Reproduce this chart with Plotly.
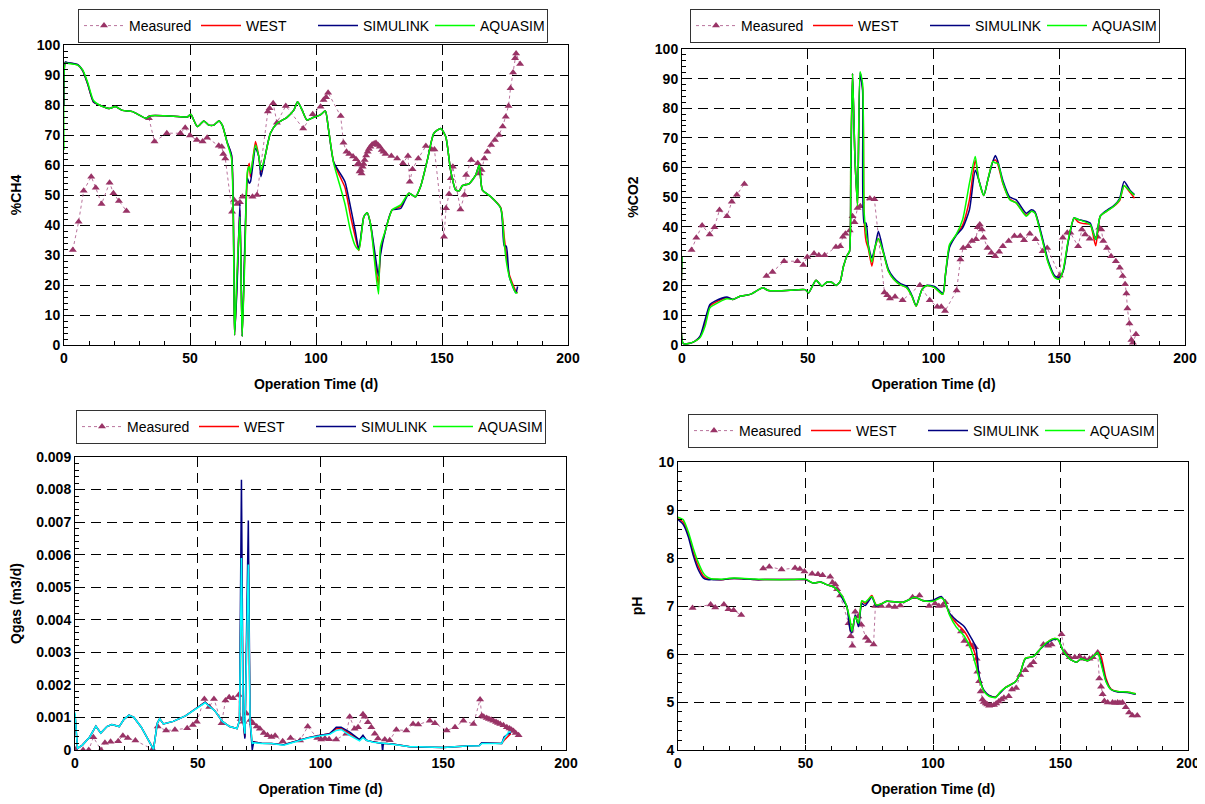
import plotly.graph_objects as go

# ---------------- Panel 1 : %CH4 ----------------
t_ch4_sim = [0, 0.5, 1.2, 5.4, 7.4, 9.4, 11.7, 14, 18, 20.3,
             23.2, 27.2, 32.5, 34.4, 40, 45, 49, 50.3, 52.9, 55.5,
             57.5, 59.5, 61.5, 62.8, 64.8, 66.5, 67.7, 68.7, 69.8, 70.7,
             71.8, 72.8, 73.5, 74, 76, 77.3, 78.2, 79.9, 81.9, 84.6,
             88.5, 91.2, 92.7, 94.5, 96.4, 99.1, 101.7, 103.7, 105, 107,
             109.6, 111.5, 113.7, 115.6, 117, 119, 120.3, 121.6, 123.6, 124.8,
             125.6, 127.6, 130.2, 133.6, 136.9, 139.5, 141.5, 144.2, 146.8, 149.5,
             151.5, 153.4, 155.4, 156.8, 158.1, 160.7, 163.4, 164.8, 166, 169.4,
             173.3, 174.7, 175.5, 176.7, 179.3, 180]
ch4_west = [80, 94.2, 94.1, 93.4, 91.5, 87, 81, 80, 78.8, 79.5,
            78.2, 77.8, 75.6, 76.4, 76.4, 76.2, 76, 76.9, 72.8, 74.7,
            73.3, 73.3, 74.7, 73.3, 67.3, 63, 3.3, 22, 45, 2.8,
            33, 57, 60.6, 56, 67.8, 62.8, 57.5, 63.3, 70.6, 73.9,
            75.9, 78.3, 81.1, 78.3, 75, 75.9, 76.7, 78, 71.7, 61,
            56, 52.5, 43, 36, 31.5, 42.8, 44.1, 40.5, 27, 20,
            31, 38.3, 45, 46.2, 50.6, 49.4, 52.8, 61.7, 70.6, 72.2,
            69.4, 58.3, 51.7, 51.4, 53.1, 53.7, 56.7, 60, 51.7, 49.4,
            45.8, 36, 30, 23.5, 18, 17.4]
ch4_simulink = [80, 94.3, 94.2, 93.5, 91.5, 87, 81, 80, 78.8, 79.5,
                78.2, 77.8, 75.6, 76.4, 76.4, 76.2, 76, 76.9, 72.8, 74.7,
                73.3, 73.3, 74.7, 73.3, 67.5, 63.3, 3.3, 20, 47.2, 2.8,
                35, 55.6, 53.9, 54.4, 65.6, 62.8, 56.1, 63.3, 70.6, 73.9,
                75.9, 78.3, 81.1, 78.3, 75, 75.9, 76.7, 78, 71.7, 61,
                57.2, 54.4, 46, 38, 32, 42.8, 44.1, 40.5, 29.4, 23,
                30, 38.3, 45, 45.5, 50.6, 49.4, 52.8, 61.7, 70.6, 72.2,
                69.4, 58.3, 51.7, 51.4, 53.1, 53.7, 56.7, 60, 51.7, 49.4,
                45.6, 33, 33, 22.8, 17.4, 19.5]
ch4_aquasim = [65, 94, 93.9, 93.3, 91.7, 87.5, 81.5, 80, 78.8, 79.5,
               78.2, 77.8, 75.6, 76.4, 76.4, 76.2, 76, 76.9, 72.8, 74.7,
               73.3, 73.3, 74.7, 73.3, 67.2, 62, 3.3, 25, 42.8, 2.8,
               30, 58, 59.4, 57.2, 66.7, 62.8, 58.3, 63.3, 70.6, 73.9,
               75.9, 78.3, 81.1, 78.3, 75, 75.9, 76.7, 78, 71.7, 60.6,
               52.8, 47, 38, 33, 31.7, 42.8, 44.1, 40.5, 25, 17,
               32.8, 38.3, 45, 46.7, 50.6, 49.4, 52.8, 61.7, 70.6, 72.2,
               69.4, 58.3, 51.7, 51.4, 53.1, 53.7, 56.7, 60, 51.7, 49.4,
               45.6, 33.9, 28, 22.8, 17.4, 17.4]
t_ch4_meas = [3.5, 5.8, 7.8, 10.8, 12.6, 14.9, 18.1, 19.6, 21.8, 24.8,
              None,
              33.7, 35.9, 40.8, 46.2, 48.1, 50, 52.7, 55, 56.8,
              61.4, 62.6, 63.2, 64, 66.7, 67.5, 68.7, 69.8, 70.8, 74.8,
              76.6, 80.9, 81.6, 83, 84.5, 88, 94.9, 98.7, 101.8, 103,
              104, 104.8, 109.8, 110.9, 112.1, 113.2, 114.7, 115.9, 116.4, 117,
              117.3, 117.7, 118.1, 118.5, 118.9, 119.3, 119.9, 120.5, 121, 121.6,
              122.3, 123.1, 123.8, 124.6, 125.3, 126.1, 126.8, 127.6, 129.9, 132.2,
              134.5, 136.5, 137.2, 138.3, 140.6, 143.6, 145.9, 147, 150.8, 151.6,
              152.8, 153.5, 154.3, 157.3, 158.9, 159.6, 161.6, 164.2, 165, 165.7,
              166.8, 168, 169.5, 171, 172.6, 174.1, 175.3, 176.4, 177.2, 178.2,
              179, 179.4, 181]
ch4_meas = [31.7, 41.1, 51.4, 56.1, 52.4, 47, 54.1, 50.6, 48, 44.7,
            None,
            75.6, 67.8, 70.6, 70.6, 72.4, 69.8, 68.3, 67.8, 69.1,
            66.4, 66.1, 63.7, 62.2, 44.4, 48.3, 47, 47.6, 49.4, 49.4,
            50, 77.8, 78.9, 80.6, 74.1, 79.7, 72.2, 76.9, 79.4, 81.7,
            82.6, 84.1, 76.3, 67.4, 64.4, 63.7, 62.8, 61.9, 60.2, 60.6,
            57.8, 58.3, 57.2, 59.4, 60.3, 61.7, 63.2, 64.4, 65.3, 66.1,
            66.8, 67.2, 67.3, 66.7, 66.1, 65, 64.4, 63.7, 63, 62.2,
            60.6, 63, 54.4, 58.6, 62.2, 66.3, 65.2, 65.2, 36.1, 45.6,
            50.3, 55.6, 59.4, 45.2, 50, 56.7, 61.7, 60.6, 57.2, 58.3,
            62.2, 64.4, 66.7, 68.3, 70, 72.8, 76.1, 79.7, 85.6, 90.8,
            95.6, 97.2, 93.7]

# ---------------- Panel 2 : %CO2 ----------------
t_co2_sim = [0, 0.5, 3.2, 5.2, 7.2, 9.2, 11.1, 13.1, 17.8, 20.2,
             23.1, 27.1, 32.1, 34.4, 43, 49, 50.3, 53.3, 55.6, 57.6,
             59.5, 61.3, 62.9, 64.2, 65.8, 66.6, 67.1, 67.8, 68.8, 69.8,
             70.8, 71.8, 72.4, 73.2, 74.1, 75.5, 76.8, 78.1, 80.1, 82.1,
             84.1, 86.7, 89.4, 91.4, 93.1, 95.4, 97.3, 100.4, 103.7, 104.8,
             106.4, 109, 111.6, 114.3, 116.6, 118, 120, 121.6, 123.6, 124.6,
             125.6, 127.6, 130.3, 132.9, 136.9, 138.9, 140.3, 142.9, 145.6, 148.3,
             150, 151.6, 153.6, 155.9, 157.6, 159.6, 162.3, 164.5, 166.3, 168.9,
             171.6, 174, 175.8, 178.2, 179.9]
co2_west = [30, 0.5, 0.6, 1.3, 2.8, 7.5, 13.2, 14.3, 16, 15.4,
            16.5, 17.1, 19.3, 18.4, 18.5, 18.7, 17.6, 21.9, 19.9, 21.2,
            21.2, 20.1, 21.5, 26.6, 30.5, 31.6, 60, 91.7, 62.5, 47,
            91, 87, 43, 35, 32.5, 26.6, 33, 36, 31.1, 24.9,
            22.3, 20.4, 19.3, 16.5, 13.1, 18.7, 20.1, 19.4, 17.1, 24,
            33.5, 37.2, 40.5, 49, 62.5, 55.8, 50.5, 55.8, 62, 62.5,
            61, 54.5, 49.3, 48, 43.8, 45.2, 44.8, 37, 28, 22.9,
            22.4, 25.2, 35.3, 42.9, 41.5, 41, 40.7, 33.5, 43.5, 45.2,
            46.8, 48.8, 53.8, 51.5, 49.6]
co2_simulink = [30, 0.5, 0.6, 1.3, 3, 8.6, 13.7, 14.8, 16.2, 15.4,
                16.5, 17.1, 19.3, 18.4, 18.5, 18.7, 17.6, 21.9, 19.9, 21.2,
                21.2, 20.1, 21.5, 26.6, 30.5, 31.6, 55, 91.7, 62.5, 47.9,
                92, 86, 41.2, 41.2, 33.8, 29.4, 33.3, 38.4, 31.5, 25.5,
                22.8, 20.8, 19.8, 16.8, 13.3, 18.7, 20.1, 19.8, 17.5, 24,
                33, 37, 39.6, 45.7, 59, 55.8, 50.5, 55.8, 62, 64,
                62, 55.5, 50, 49, 44.5, 45.7, 45, 37.5, 28.5, 23.3,
                22.8, 25, 35, 42.9, 42.4, 42, 41.2, 35.6, 43.5, 45.5,
                47, 49.5, 55.2, 52.2, 50.8]
co2_aquasim = [30, 0.5, 0.6, 1.3, 2.5, 6.4, 12.6, 13.7, 15.6, 15.4,
               16.5, 17.1, 19.3, 18.4, 18.5, 18.7, 17.6, 21.9, 19.9, 21.2,
               21.2, 20.1, 21.5, 26.6, 30.5, 31.6, 62.5, 91.7, 62.5, 47,
               92.3, 88.3, 45, 37.8, 33.3, 28, 33.3, 36, 31.1, 24.9,
               22.3, 20.4, 19.3, 16.5, 13.1, 18.7, 20.1, 19.4, 17.1, 24.4,
               34, 37.3, 42.4, 54.7, 63.7, 55.8, 50.5, 55.8, 62, 61.5,
               61.4, 54.7, 49.1, 48, 43.5, 45.2, 44.6, 36.7, 27.8, 22.7,
               22.2, 25.5, 35.6, 42.9, 42.4, 41.8, 40.7, 35.6, 43.5, 45.2,
               46.8, 49.1, 53.8, 51.9, 50.6]
t_co2_meas = [3.8, 5.7, 8, 11, 12.9, 14.9, 17.9, 19.8, 21.8, 24.8,
              None,
              33.6, 36, 40.6, 45.9, 48.2, 49.8, 52.5, 54.4, 56.7,
              61.2, 62.9, 64, 65, 66.7, 67.8, 68.6, 69.8, 70.9, 74.7,
              76.5, 80.5, 81.6, 82.7, 84.7, 87.7, 94.6, 98.5, 101.5, 103.1,
              104.6, 109.2, 110.7, 111.8, 113.8, 115.3, 116.9, 117.6, 118.4, 119.2,
              119.9, 121.5, 123, 124.5, 126.1, 127.6, 129.9, 132.2, 134.5, 136,
              138.3, 140.6, 143.4, 145.2, 150.2, 151.4, 153.2, 154.4, 157.5, 159,
              160.3, 162.1, 165.2, 165.9, 166.7, 167.5, 169, 170.6, 172.5, 174.1,
              175.2, 176.2, 176.7, 177.1, 177.9, 178.7, 179.3, 180.5]
co2_meas = [32.1, 36.2, 40.4, 37.3, 39.8, 45.6, 43.5, 48.4, 50.8, 54.4,
            None,
            23.3, 24.7, 28.3, 28.3, 27, 29.7, 30.9, 30.3, 30.3,
            33.1, 33.4, 36.6, 37.6, 38.7, 43.5, 41.5, 46.3, 46.9, 49.5,
            49.2, 17.7, 16.8, 15.7, 16.3, 15.1, 20.2, 15.1, 12.9, 12.9,
            11.5, 18.4, 28.9, 32.8, 33.4, 35.1, 35.7, 39.8, 40.7, 39,
            36.2, 32.8, 31.2, 30, 31.5, 33.4, 35.1, 36.8, 36.8, 35.4,
            37.6, 35.7, 31.7, 32.8, 23.5, 36.2, 37.9, 37.9, 33.4, 39,
            37.3, 35.9, 36.6, 39.6, 39, 35.1, 32.8, 30, 28.3, 26.1,
            23.3, 20.5, 17.4, 12.3, 7.3, 1.7, 0.8, 3.6]

# ---------------- Panel 3 : Qgas ----------------
t_q_sim = [0, 1, 3, 6, 8.5, 10.5, 13, 15, 18, 20,
           22, 24, 27, 30, 32, 33.5, 34.5, 36, 40, 45,
           50, 53, 57, 60, 63, 66, 67, 67.8, 68.5, 69.2,
           70.6, 71.3, 72.2, 72.8, 76, 80, 85, 90, 95, 100,
           103.7, 106.4, 108.4, 111.9, 115.9, 117.3, 118.7, 121.4, 125, 125.3,
           125.6, 126.8, 130, 136.4, 140, 150, 159.5, 164.7, 165.7, 169.8,
           173.8, 174.8, 176.6, 177.5]
q_west = [0.0011, 0.00005, 0.00015, 0.0004, 0.00073, 0.00052, 0.00072, 0.00078, 0.00072, 0.00095,
          0.00107, 0.001, 0.0007, 0.0003, 0.00002, 0.00082, 0.00096, 0.0008, 0.00088, 0.00105,
          0.0013, 0.00147, 0.0012, 0.00088, 0.00072, 0.00066, 0.0009, 0.006, 0.0009, 0.0004,
          0.0058, 0.0009, 0.0002, 0.00025, 0.00021, 0.0002, 0.00016, 0.00028, 0.00038, 0.00045,
          0.0005, 0.00065, 0.00066, 0.0005, 0.0003, 0.00042, 0.0003, 0.00025, 0.0002, 0.0002,
          0.0002, 0.0002, 0.00018, 0.0001, 0.0001, 0.00008, 0.00012, 0.00014, 0.00022, 0.0002,
          0.0002, 0.0003, 0.00045, 0.0005]
q_simulink = [0.0011, 0.00005, 0.00015, 0.0004, 0.00073, 0.00052, 0.00072, 0.00078, 0.00072, 0.00095,
              0.00107, 0.001, 0.0007, 0.0003, 0.00002, 0.00082, 0.00096, 0.0008, 0.00088, 0.00105,
              0.0013, 0.00147, 0.0012, 0.00088, 0.00072, 0.00066, 0.0009, 0.0083, 0.0009, 0.00035,
              0.00705, 0.0009, 0.0, 0.00025, 0.00021, 0.0002, 0.00016, 0.00028, 0.00038, 0.00045,
              0.0005, 0.0007, 0.0007, 0.00055, 0.00032, 0.00045, 0.0003, 0.00025, 0.0002, -0.00005,
              0.0002, 0.0002, 0.00018, 0.0001, 0.0001, 0.00008, 0.00012, 0.00014, 0.00022, 0.0002,
              0.0002, 0.0004, 0.0005, 0.00052]
q_aquasim = [0.00115, 0.00005, 0.00015, 0.0004, 0.00073, 0.00052, 0.00072, 0.00078, 0.00072, 0.00095,
             0.00107, 0.001, 0.0007, 0.0003, 0.00002, 0.00082, 0.00096, 0.0008, 0.00088, 0.00105,
             0.0013, 0.00145, 0.0012, 0.00088, 0.00072, 0.00066, 0.0009, 0.0059, 0.0009, 0.0005,
             0.0057, 0.0009, 0.0002, 0.00022, 0.0002, 0.0002, 0.00015, 0.00027, 0.00037, 0.00044,
             0.00048, 0.0006, 0.00063, 0.00045, 0.00028, 0.00038, 0.0003, 0.00024, 0.0002, 0.0002,
             0.0002, 0.0002, 0.00017, 0.0001, 0.0001, 0.00008, 0.00012, 0.00013, 0.0002, 0.0002,
             0.0002, 0.00035, 0.00055, 0.00056]
t_q_meas = [0, 3.3, 5.6, 7.5, 10.6, 12.2, 14.5, 17.6, 19.5, 21.5,
            24.6, 31.6, 33.7, 37.1, 40.7, 45.7, 48, 49.6, 52.7, 54.7,
            56.6, 59.7, 61.3, 62.8, 64.4, 66.7, 67.5, 68.6, 69.8, 71.4,
            72.5, 74, 75.3, 76.9, 78.4, 80, 81.5, 84.6, 87.8, 91.7,
            94.8, 98.7, 100.3, 101.8, 103.5, 106.4, 110.5, 111.9, 113.9, 115.3,
            117.3, 118, 119.3, 120.7, 122.1, 123.4, 126.2, 128.2, 130.9, 135,
            137.7, 139.8, 144.5, 146.6, 151.4, 154.8, 158.2, 162.3, 165, 165.7,
            166.5, 167.7, 168.6, 169.5, 170.4, 171.5, 172.3, 173.2, 174.5, 175.9,
            177, 177.8, 178.6, 179.5, 180.7]
q_meas = [0.00002, 0, 0, 0.00039, 0, 0.00022, 0.00025, 0.00027, 0.00044, 0.00037,
          0.00029, 0.00002, 0.00072, 0.0006, 0.00062, 0.00067, 0.00077, 0.00087, 0.00157, 0.00132,
          0.00157, 0.00082, 0.00152, 0.00162, 0.00159, 0.00169, 0.00095, 0.00087, 0.00112, 0.00092,
          0.00082, 0.00072, 0.00065, 0.00052, 0.00045, 0.0004, 0.00044, 0.00027, 0.00037, 0.00029,
          0.00072, 0.00037, 0.00032, 0.00035, 0.00033, 0.00032, 0.0005, 0.00102, 0.00065, 0.0007,
          0.0011, 0.00102, 0.00085, 0.0007, 0.0005, 0.00035, 0.00032, 0.0003, 0.00062, 0.0006,
          0.0008, 0.00078, 0.0009, 0.00082, 0.0006, 0.0007, 0.0009, 0.0008, 0.00155, 0.00105,
          0.00102, 0.00098, 0.00095, 0.00093, 0.0009, 0.00086, 0.00083, 0.0008, 0.00076, 0.0007,
          0.00066, 0.00062, 0.00058, 0.00052, 0.00045]

# ---------------- Panel 4 : pH ----------------
t_ph_sim = [0, 2, 4, 6, 8, 10, 11.5, 13, 18, 20,
            25, 30, 35, 45, 50, 53, 56, 58, 61, 63,
            65, 66.2, 67.5, 68.2, 69.5, 70.8, 72.1, 73.4, 76, 77.7,
            80, 81.8, 88.3, 92.9, 96.1, 100, 103.2, 104.5, 106.5, 109,
            112.3, 114.9, 116.8, 118.1, 120, 122, 124.5, 126.5, 128.4, 132.3,
            134.2, 136.2, 139.4, 142, 144.6, 147.2, 149.1, 151, 153.6, 156.2,
            158.1, 160.7, 163.3, 164.6, 165.9, 167.8, 169.8, 172.4, 176.2, 179.5]
ph_west = [8.82, 8.75, 8.5, 8.12, 7.82, 7.62, 7.57, 7.56, 7.55, 7.57,
           7.57, 7.55, 7.55, 7.55, 7.55, 7.48, 7.5, 7.45, 7.4, 7.3,
           7.12, 6.99, 6.6, 6.45, 6.8, 6.6, 7.1, 7.05, 7.22, 7.02,
           7.05, 7.1, 7.08, 7.18, 7.11, 7.11, 7.18, 7.11, 6.83, 6.65,
           6.47, 6.22, 5.95, 5.52, 5.23, 5.13, 5.1, 5.21, 5.3, 5.42,
           5.6, 5.91, 5.95, 6.1, 6.24, 6.32, 6.3, 6.07, 5.9, 5.83,
           5.9, 5.86, 5.97, 6.03, 5.95, 5.5, 5.27, 5.22, 5.21, 5.17]
ph_simulink = [8.8, 8.7, 8.45, 8.05, 7.75, 7.58, 7.55, 7.55, 7.55, 7.57,
               7.57, 7.55, 7.55, 7.55, 7.55, 7.48, 7.5, 7.45, 7.4, 7.3,
               7.1, 7.0, 6.5, 6.44, 6.81, 6.57, 7.05, 7.01, 7.18, 7.0,
               7.05, 7.1, 7.08, 7.18, 7.11, 7.12, 7.2, 7.11, 6.85, 6.71,
               6.57, 6.34, 6.14, 5.55, 5.24, 5.14, 5.1, 5.2, 5.3, 5.42,
               5.6, 5.9, 5.95, 6.1, 6.22, 6.3, 6.3, 6.07, 5.9, 5.83,
               5.9, 5.86, 5.97, 6.03, 5.85, 5.45, 5.26, 5.21, 5.2, 5.16]
ph_aquasim = [8.85, 8.8, 8.55, 8.2, 7.9, 7.68, 7.6, 7.57, 7.56, 7.58,
              7.58, 7.56, 7.55, 7.55, 7.56, 7.48, 7.5, 7.45, 7.4, 7.3,
              7.15, 6.98, 6.71, 6.47, 6.78, 6.64, 7.11, 7.08, 7.2, 7.02,
              7.05, 7.1, 7.08, 7.18, 7.11, 7.1, 7.17, 7.11, 6.81, 6.57,
              6.37, 6.1, 5.76, 5.49, 5.22, 5.12, 5.09, 5.22, 5.3, 5.42,
              5.6, 5.91, 5.95, 6.1, 6.24, 6.32, 6.3, 6.07, 5.9, 5.83,
              5.9, 5.86, 5.97, 6.03, 5.8, 5.43, 5.26, 5.22, 5.21, 5.17]
t_ph_meas = [5.7, 12.8, 14.6, 18, 19.8, 21.8, 24.8,
             None,
             33.4, 35.8, 40.6, 45.9, 47.8, 49.6, 52.6, 54.9, 56.7, 59.7,
             60.6, 61.7, 62.4, 63.6, 66.9, 67.7, 68.4, 69.5, 70.7, 71.9,
             73.7, 74.7, 76.7, 77.4, 79.7, 82.7, 85, 87.2, 92, 94.7,
             98.5, 100.8, 102.3, 103.8, 104.8, 111, 112.3, 114.2, 115.5, 116.5,
             117.1, 117.4, 118.1, 118.7, 119.4, 119.9, 120.7, 121.3, 122, 122.8,
             123.9, 124.8, 125.8, 126.8, 127.8, 129.7, 131, 132.6, 134.2, 136.2,
             138.1, 139.4, 143.3, 145.2, 146.5, 150.4, 151.7, 153.6, 155.6, 157.5,
             159.4, 161.4, 162.7, 164.6, 165.2, 165.9, 166.5, 167.2, 168.5, 170.4,
             171.4, 172.4, 173.3, 174.3, 175.6, 176.9, 178.2, 180.1]
ph_meas = [6.96, 7.03, 6.97, 7.03, 6.93, 6.91, 6.81,
           None,
           7.78, 7.82, 7.76, 7.79, 7.77, 7.72, 7.67, 7.66, 7.64, 7.61,
           7.49, 7.45, 7.35, 7.22, 6.64, 6.37, 6.17, 6.88, 6.78, 6.61,
           6.34, 6.27, 6.2, 7.0, 7.0, 7.0, 6.98, 7.01, 7.18, 7.22,
           7.0, 7.05, 7.0, 7.01, 7.08, 6.47, 6.27, 6.2, 6.17, 6.14,
           5.9, 5.63, 5.43, 5.22, 5.05, 5.0, 4.97, 4.95, 4.92, 4.93,
           4.94, 4.97, 5.01, 5.05, 5.09, 5.12, 5.26, 5.29, 5.56, 5.66,
           5.76, 5.83, 6.2, 6.17, 6.2, 6.41, 6.03, 5.93, 5.93, 5.95,
           5.9, 5.9, 5.93, 6.03, 5.49, 5.32, 5.16, 5.02, 4.99, 4.99,
           4.98, 4.99, 4.98, 4.99, 4.89, 4.78, 4.72, 4.72]

q_tickvals = [0, 0.001, 0.002, 0.003, 0.004, 0.005, 0.006, 0.007, 0.008, 0.009]
q_ticktext = ["0", "0.001", "0.002", "0.003", "0.004", "0.005", "0.006", "0.007", "0.008", "0.009"]

# ---------------- styling ----------------
FONT = "Arial, Liberation Sans, sans-serif"
C_MEAS = "#993366"
C_MEAS_LINE = "#b9739c"
C_WEST = "#FF0000"
C_SIM = "#000080"
C_AQ = "#00FF00"
C_AQ_Q = "#00FFFF"
OFF = 8                       # page body margin
W, H = 1205 - OFF, 804 - OFF


def px_x(v):
    return (v - OFF) / W


def px_y(v):
    return 1 - (v - OFF) / H


fig = go.Figure()

panels = [
    dict(ts=t_ch4_sim, west=ch4_west, sim=ch4_simulink, aq=ch4_aquasim,
         tm=t_ch4_meas, m=ch4_meas, aqcol=C_AQ, ytitle="%CH4", shape="spline",
         box=(64, 568, 45, 345), yr=[0, 100], dy=10, mdy=2, leg=(78, 9)),
    dict(ts=t_co2_sim, west=co2_west, sim=co2_simulink, aq=co2_aquasim,
         tm=t_co2_meas, m=co2_meas, aqcol=C_AQ, ytitle="%CO2", shape="spline",
         box=(682, 1185, 49, 345), yr=[0, 100], dy=10, mdy=2, leg=(690, 9)),
    dict(ts=t_q_sim, west=q_west, sim=q_simulink, aq=q_aquasim,
         tm=t_q_meas, m=q_meas, aqcol=C_AQ_Q, ytitle="Qgas (m3/d)", shape="linear",
         box=(75, 566, 457, 750), yr=[0, 0.009], dy=0.001, mdy=0.0002, leg=(76, 410)),
    dict(ts=t_ph_sim, west=ph_west, sim=ph_simulink, aq=ph_aquasim,
         tm=t_ph_meas, m=ph_meas, aqcol=C_AQ, ytitle="pH", shape="spline",
         box=(678, 1188, 462, 750), yr=[4, 10], dy=1, mdy=0.2, leg=(688, 414)),
]

layout = dict(width=W, height=H, margin=dict(l=0, r=0, t=0, b=0),
              paper_bgcolor="white", plot_bgcolor="white",
              font=dict(family=FONT, color="black"), showlegend=True)

for i, p in enumerate(panels, start=1):
    sfx = "" if i == 1 else str(i)
    xref, yref = "x" + sfx, "y" + sfx
    leg = "legend" + sfx
    sline = dict(shape=p["shape"], smoothing=0.6) if p["shape"] == "spline" else dict(shape="linear")
    fig.add_trace(go.Scatter(x=p["tm"], y=p["m"], name="Measured", mode="lines+markers",
                             xaxis=xref, yaxis=yref, legend=leg, connectgaps=False,
                             line=dict(color=C_MEAS_LINE, width=1, dash="dot"),
                             marker=dict(symbol="triangle-up", size=7, color=C_MEAS)))
    fig.add_trace(go.Scatter(x=p["ts"], y=p["west"], name="WEST", mode="lines",
                             xaxis=xref, yaxis=yref, legend=leg,
                             line=dict(color=C_WEST, width=1.5, **sline)))
    fig.add_trace(go.Scatter(x=p["ts"], y=p["sim"], name="SIMULINK", mode="lines",
                             xaxis=xref, yaxis=yref, legend=leg,
                             line=dict(color=C_SIM, width=1.5, **sline)))
    if p["aqcol"] == C_AQ:
        fig.add_trace(go.Scatter(x=p["ts"], y=p["aq"], name="AQUASIM", mode="lines",
                                 xaxis=xref, yaxis=yref, legend=leg,
                                 line=dict(color=C_AQ, width=1.5, **sline)))
    else:
        fig.add_trace(go.Scatter(x=p["ts"], y=p["aq"], name="AQUASIM", mode="lines",
                                 xaxis=xref, yaxis=yref, legend=leg, showlegend=False,
                                 line=dict(color=p["aqcol"], width=1.5, **sline)))
        fig.add_trace(go.Scatter(x=[None], y=[None], name="AQUASIM", mode="lines",
                                 xaxis=xref, yaxis=yref, legend=leg,
                                 line=dict(color=C_AQ, width=1.5)))

    x0, x1, y0, y1 = p["box"]
    common = dict(showline=True, mirror=True, linecolor="black", linewidth=1,
                  showgrid=True, gridcolor="black", gridwidth=1, griddash="10px,6px",
                  zeroline=False, ticks="inside", ticklen=5, tickcolor="black",
                  tickfont=dict(family=FONT, size=14, color="black", weight="bold"),
                  automargin=False)
    layout["xaxis" + sfx] = dict(common, domain=[px_x(x0), px_x(x1)], anchor=yref,
                                 range=[0, 200], tick0=0, dtick=50,
                                 minor=dict(dtick=10, ticks="inside", ticklen=4,
                                            tickcolor="black", showgrid=False),
                                 title=dict(text="Operation Time (d)", standoff=14,
                                            font=dict(family=FONT, size=14, weight="bold")))
    yax = dict(common, domain=[px_y(y1), px_y(y0)], anchor=xref,
               range=p["yr"], tick0=p["yr"][0], dtick=p["dy"],
               minor=dict(dtick=p["mdy"], ticks="inside", ticklen=4,
                          tickcolor="black", showgrid=False),
               title=dict(text=p["ytitle"], standoff=12,
                          font=dict(family=FONT, size=14, weight="bold")))
    if i == 3:
        yax["tickmode"] = "array"
        yax["tickvals"] = q_tickvals
        yax["ticktext"] = q_ticktext
    layout["yaxis" + sfx] = yax
    lx, ly = p["leg"]
    layout[leg] = dict(x=px_x(lx), y=px_y(ly), xanchor="left", yanchor="top",
                       orientation="h", bordercolor="#333333", borderwidth=1,
                       bgcolor="white", font=dict(family=FONT, size=14, color="black"),
                       entrywidth=62, tracegroupgap=0, itemwidth=40)

fig.update_layout(**layout)
fig.write_html("out.html")
